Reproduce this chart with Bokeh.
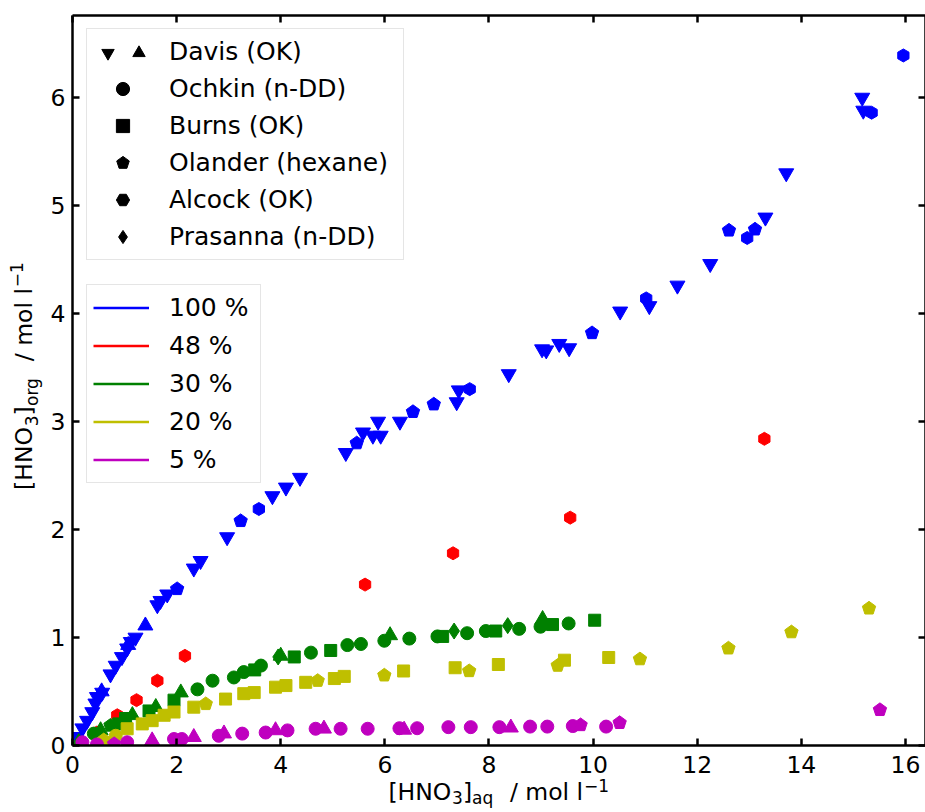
import math
from bokeh.plotting import figure
from bokeh.models import Range1d, LinearAxis, Legend, LegendItem, FixedTicker
from bokeh.embed import file_html
from bokeh.resources import INLINE

# ---------------- data ----------------
# 100 % (blue)
davis_dn_100_x = [0.09, 0.19, 0.28, 0.38, 0.44, 0.47, 0.57, 0.73, 0.83, 0.95, 1.05, 1.12, 1.21, 1.63, 1.69, 1.82,
                  2.33, 2.46, 2.97, 3.84, 4.10, 4.37, 5.25, 5.58, 5.77, 5.92, 5.87, 6.29, 7.38, 7.42, 8.38, 9.02,
                  9.10, 9.35, 9.54, 10.52, 11.08, 11.62, 12.25, 13.31, 13.71, 15.17, 15.19]
davis_dn_100_y = [0.08, 0.16, 0.23, 0.31, 0.39, 0.45, 0.49, 0.66, 0.74, 0.82, 0.90, 0.96, 1.00, 1.30, 1.34, 1.40,
                  1.64, 1.71, 1.93, 2.31, 2.39, 2.48, 2.71, 2.90, 2.87, 2.87, 3.00, 3.00, 3.18, 3.29, 3.44, 3.67,
                  3.66, 3.72, 3.68, 4.02, 4.07, 4.26, 4.46, 4.89, 5.30, 6.00, 5.88]
davis_up_100_x = [0.56, 1.07, 1.40]
davis_up_100_y = [0.50, 0.93, 1.11]
olander_100_x = [2.01, 3.23, 5.46, 6.54, 6.94, 9.98, 12.61, 13.11]
olander_100_y = [1.45, 2.08, 2.80, 3.09, 3.16, 3.82, 4.77, 4.78]
alcock_100_x = [3.58, 7.63, 11.02, 12.96, 15.35, 15.96]
alcock_100_y = [2.19, 3.30, 4.14, 4.70, 5.86, 6.39]

# 48 % (red)
alcock_48_x = [0.47, 0.86, 1.23, 1.63, 2.16, 5.62, 7.31, 9.56, 13.29]
alcock_48_y = [0.12, 0.28, 0.42, 0.60, 0.83, 1.49, 1.78, 2.11, 2.84]

# 30 % (green)
ochkin_30_x = [0.41, 2.40, 2.69, 3.10, 3.29, 3.62, 4.58, 5.28, 5.54, 5.99, 6.47, 7.01, 7.58, 7.94, 8.58, 8.99, 9.53]
ochkin_30_y = [0.11, 0.52, 0.60, 0.63, 0.68, 0.74, 0.86, 0.93, 0.94, 0.97, 0.99, 1.01, 1.04, 1.06, 1.08, 1.10, 1.13]
davis_up_30_x = [0.12, 0.54, 1.15, 1.60, 2.08, 4.00, 6.10, 9.03]
davis_up_30_y = [0.03, 0.14, 0.28, 0.355, 0.49, 0.83, 1.02, 1.17]
burns_30_x = [0.89, 1.02, 1.47, 1.95, 3.50, 4.26, 4.96, 7.11, 8.13, 9.22, 10.03]
burns_30_y = [0.20, 0.25, 0.32, 0.42, 0.70, 0.82, 0.88, 1.01, 1.06, 1.12, 1.16]
prasanna_30_x = [3.95, 7.33, 8.36]
prasanna_30_y = [0.82, 1.06, 1.11]
olander_30_x = [0.73]
olander_30_y = [0.185]

# 20 % (yellow)
burns_20_x = [1.05, 1.34, 1.53, 1.76, 1.95, 2.33, 2.94, 3.29, 3.49, 3.90, 4.10, 4.48, 5.03, 5.22, 6.36, 7.35,
              8.18, 9.45, 10.30]
burns_20_y = [0.155, 0.20, 0.23, 0.28, 0.31, 0.355, 0.43, 0.48, 0.49, 0.54, 0.555, 0.585, 0.62, 0.64, 0.69, 0.72,
              0.75, 0.79, 0.815]
olander_20_x = [0.60, 2.56, 4.71, 5.99, 7.62, 9.32, 10.90, 12.60, 13.81, 15.30]
olander_20_y = [0.05, 0.385, 0.60, 0.65, 0.69, 0.74, 0.80, 0.90, 1.05, 1.27]
ochkin_20_x = [0.83]
ochkin_20_y = [0.09]

# 5 % (magenta)
ochkin_5_x = [0.19, 0.47, 1.05, 1.95, 2.10, 2.81, 3.26, 3.71, 4.13, 4.67, 5.15, 5.67, 6.28, 6.62, 7.22, 7.65,
              8.20, 8.79, 9.12, 9.61, 10.25]
ochkin_5_y = [0.03, 0.01, 0.03, 0.06, 0.06, 0.09, 0.11, 0.12, 0.14, 0.155, 0.155, 0.155, 0.16, 0.16, 0.17, 0.17,
              0.17, 0.175, 0.175, 0.18, 0.175]
davis_up_5_x = [1.53, 2.33, 2.91, 3.90, 4.83, 6.37, 8.42]
davis_up_5_y = [0.046, 0.077, 0.11, 0.14, 0.155, 0.145, 0.165]
olander_5_x = [0.80, 9.76, 10.51, 15.51]
olander_5_y = [0.015, 0.19, 0.21, 0.33]

x_ticks = [0, 2, 4, 6, 8, 10, 12, 14, 16]
y_ticks = [0, 1, 2, 3, 4, 5, 6]

conc_labels = ["100 %", "48 %", "30 %", "20 %", "5 %"]
conc_colors = ["#0000ff", "#ff0000", "#008000", "#bfbf00", "#bf00bf"]
author_labels = ["Davis (OK)", "Ochkin (n-DD)", "Burns (OK)", "Olander (hexane)", "Alcock (OK)", "Prasanna (n-DD)"]

# axis-title pieces: (text, position along the axis in data units)
xlab_main = [("[HNO", 6.673), ("]", 7.590), ("/ mol l", 9.106)]
xlab_sub = [("3", 7.394), ("aq", 7.877)]
xlab_sup = [("\u22121", 10.067)]
ylab_main = [("[HNO", 2.658), ("]", 3.099), ("/ mol l", 3.898)]
ylab_sub = [("3", 3.006), ("org", 3.273)]
ylab_sup = [("\u22121", 4.360)]

FONT = "DejaVu Sans"
NAN = float("nan")

# ---------------- figure ----------------
p = figure(width=925, height=812, output_backend="svg", toolbar_location=None,
           x_range=Range1d(0, 16.385), y_range=Range1d(0, 6.76),
           min_border_left=72, min_border_right=0, min_border_top=15, min_border_bottom=67)
p.grid.visible = False
p.outline_line_color = None
p.background_fill_color = "white"
p.border_fill_color = "white"

top_ax = LinearAxis(major_label_overrides={t: "" for t in x_ticks})
right_ax = LinearAxis(major_label_overrides={t: "" for t in y_ticks})
p.add_layout(top_ax, "above")
p.add_layout(right_ax, "right")
for ax in p.axis:
    ax.axis_line_width = 2.5
    ax.axis_line_color = "black"
    ax.major_tick_line_width = 2.5
    ax.major_tick_line_color = "black"
    ax.major_tick_in = 7
    ax.major_tick_out = 0
    ax.minor_tick_in = 0
    ax.minor_tick_out = 0
    ax.major_label_text_font = FONT
    ax.major_label_text_font_size = "23.5px"
    ax.major_label_text_color = "black"
for ax in p.xaxis:
    ax.ticker = FixedTicker(ticks=x_ticks)
for ax in p.yaxis:
    ax.ticker = FixedTicker(ticks=y_ticks)
p.below[0].major_label_standoff = 10
p.left[0].major_label_standoff = 7
top_ax.major_label_standoff = 0
right_ax.major_label_standoff = 0


# axis titles built from tick-label-only axes (allows sub/superscripts)
def title_axis(pieces, place, size, standoff):
    ticks = [pos for _, pos in pieces]
    ax = LinearAxis(ticker=FixedTicker(ticks=ticks, minor_ticks=[]),
                    major_label_overrides={pos: txt for txt, pos in pieces},
                    axis_line_color=None, major_tick_line_color=None, minor_tick_line_color=None,
                    major_tick_in=0, major_tick_out=0, minor_tick_in=0, minor_tick_out=0,
                    major_label_standoff=standoff, major_label_text_font=FONT,
                    major_label_text_font_size=size, major_label_text_color="black")
    if place == "left":
        ax.major_label_orientation = "parallel"
    p.add_layout(ax, place)


title_axis(xlab_sup, "below", "17px", 3)
title_axis(xlab_main, "below", "23.5px", -17)
title_axis(xlab_sub, "below", "17px", -21)
title_axis(ylab_sub, "left", "17px", 5)
title_axis(ylab_main, "left", "23.5px", -19)
title_axis(ylab_sup, "left", "17px", -16)

# ---------------- markers ----------------
def tri_dn(x, y, c):
    p.scatter(x, y, marker="inverted_triangle", size=15, color=c)

def tri_up(x, y, c):
    p.scatter(x, y, marker="triangle", size=15, color=c)

def circ(x, y, c):
    p.scatter(x, y, marker="circle", size=13, color=c)

def sq(x, y, c):
    p.scatter(x, y, marker="square", size=12, color=c)

def dia(x, y, c):
    p.scatter(x, y, marker="diamond", size=16, color=c)

def hexa(x, y, c):
    p.scatter(x, y, marker="hex", size=13, angle=math.pi / 2, color=c)

def pent(x, y, c, r=7):
    # regular pentagon, first vertex pointing up (angle 0)
    if hasattr(p, "ngon"):
        return p.ngon(x=x, y=y, radius=r, radius_units="screen", n=5, angle=0.0,
                      fill_color=c, line_color=c)
    return p.scatter(x, y, marker="hex", size=2 * r, color=c)

blue, red, green, yellow, magenta = conc_colors
tri_dn(davis_dn_100_x, davis_dn_100_y, blue)
tri_up(davis_up_100_x, davis_up_100_y, blue)
pent(olander_100_x, olander_100_y, blue)
hexa(alcock_100_x, alcock_100_y, blue)

hexa(alcock_48_x, alcock_48_y, red)

circ(ochkin_30_x, ochkin_30_y, green)
tri_up(davis_up_30_x, davis_up_30_y, green)
sq(burns_30_x, burns_30_y, green)
dia(prasanna_30_x, prasanna_30_y, green)
pent(olander_30_x, olander_30_y, green)

sq(burns_20_x, burns_20_y, yellow)
pent(olander_20_x, olander_20_y, yellow)
circ(ochkin_20_x, ochkin_20_y, yellow)

circ(ochkin_5_x, ochkin_5_y, magenta)
tri_up(davis_up_5_x, davis_up_5_y, magenta)
pent(olander_5_x, olander_5_y, magenta)

# ---------------- legends (proxy renderers hold a single NaN point) ----------------
dummy_davis = p.scatter(x=[NAN], y=[NAN], marker="circle", size=1, fill_alpha=0, line_alpha=0)
leg_circ = p.scatter(x=[NAN], y=[NAN], marker="circle", color="black")
leg_sq = p.scatter(x=[NAN], y=[NAN], marker="square", color="black")
leg_pent = pent([NAN], [NAN], "black", r=6)
leg_hex = p.scatter(x=[NAN], y=[NAN], marker="hex", angle=math.pi / 2, color="black")
leg_dia = p.scatter(x=[NAN], y=[NAN], marker="diamond", color="black")
leg_dn = p.scatter(x=[NAN], y=[NAN], marker="inverted_triangle", color="black")
leg_up = p.scatter(x=[NAN], y=[NAN], marker="triangle", color="black")


def style_legend(lg, pad, gw, gh, sp, standoff, lw):
    lg.padding = pad
    lg.glyph_width = gw
    lg.glyph_height = gh
    lg.spacing = sp
    lg.label_standoff = standoff
    lg.label_height = gh
    lg.label_width = lw
    lg.label_text_font = FONT
    lg.label_text_font_size = "25px"
    lg.label_text_color = "black"
    lg.border_line_color = "#cccccc"
    lg.border_line_width = 1
    lg.background_fill_color = "white"
    lg.background_fill_alpha = 0.8
    lg.margin = 0


leg1 = Legend(items=[LegendItem(label=author_labels[0], renderers=[dummy_davis]),
                     LegendItem(label=author_labels[1], renderers=[leg_circ]),
                     LegendItem(label=author_labels[2], renderers=[leg_sq]),
                     LegendItem(label=author_labels[3], renderers=[leg_pent]),
                     LegendItem(label=author_labels[4], renderers=[leg_hex]),
                     LegendItem(label=author_labels[5], renderers=[leg_dia])],
              location=(14, 485))
style_legend(leg1, 6, 59, 33, 4, 17, 228)
p.add_layout(leg1, "center")

# the two Davis triangles side by side (one horizontal legend, no text)
leg_tri = Legend(items=[LegendItem(label="", renderers=[leg_dn]), LegendItem(label="", renderers=[leg_up])],
                 location=(19.5, 676), orientation="horizontal")
style_legend(leg_tri, 0, 31, 33, 0, 0, 0)
leg_tri.background_fill_alpha = 0
leg_tri.border_line_alpha = 0
p.add_layout(leg_tri, "center")

line_rs = [p.line(x=[NAN], y=[NAN], line_color=c, line_width=2.5) for c in conc_colors]
leg2 = Legend(items=[LegendItem(label=l, renderers=[r]) for l, r in zip(conc_labels, line_rs)],
              location=(14, 262))
style_legend(leg2, 6, 56, 33, 5, 20, 85)
p.add_layout(leg2, "center")

open("out.html", "w").write(file_html(p, INLINE))
